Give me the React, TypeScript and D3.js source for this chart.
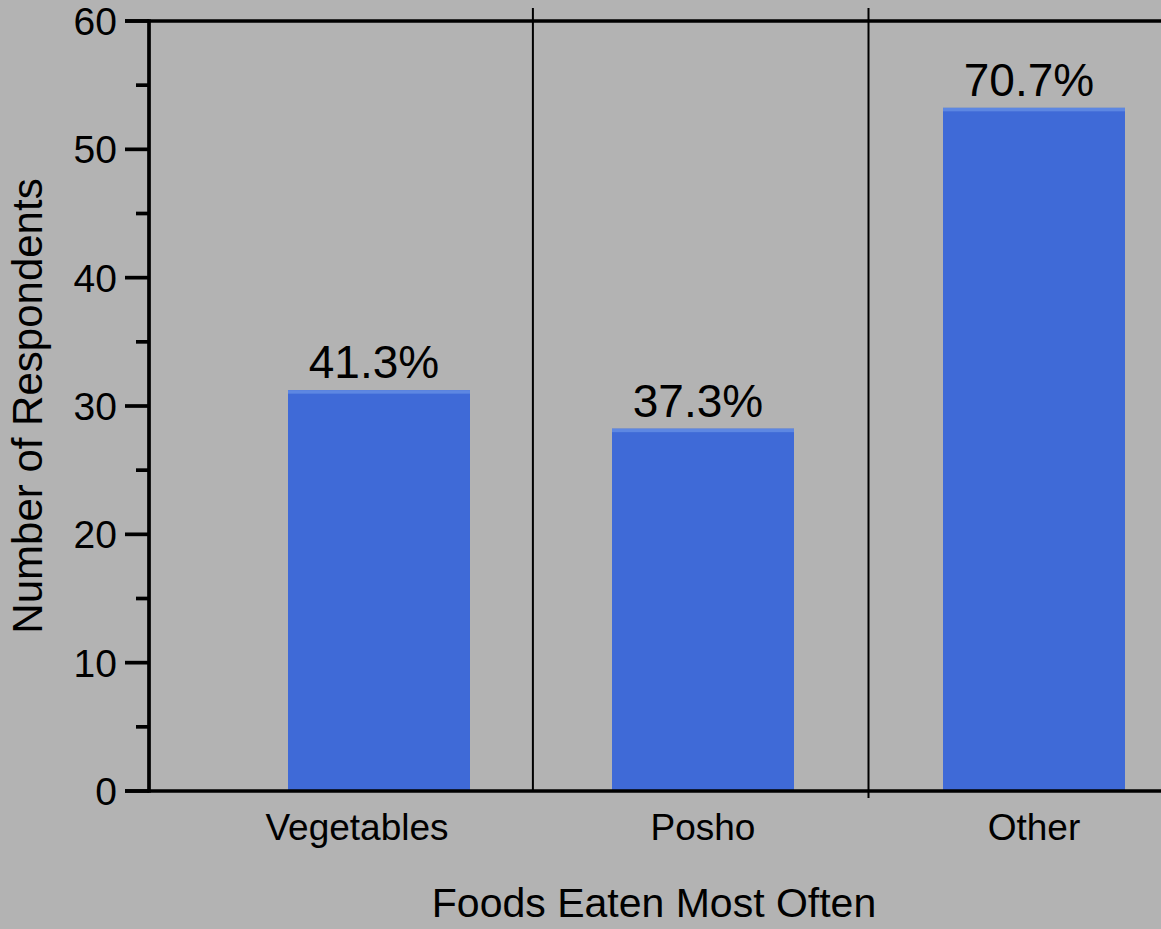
import React from "react";
import * as d3 from "d3";

const categories = ["Vegetables", "Posho", "Other"];
const respondents = [31, 28, 53];
const percentLabels = ["41.3%", "37.3%", "70.7%"];
const yTicks = [0, 10, 20, 30, 40, 50, 60];
const yMinorTicks = [5, 15, 25, 35, 45, 55];
const xTitle = "Foods Eaten Most Often";
const yTitle = "Number of Respondents";

const W = 1161;
const H = 929;
const FONT = "'Liberation Sans', Arial, Helvetica, sans-serif";

export default function App() {
  const y = d3.scaleLinear().domain([0, 60]).range([791, 21]);
  const xi = d3.scaleLinear().domain([0, 1, 2]).range([379, 703, 1034]);
  const barW = 182;
  const axisX = 149;
  const bg = "#b3b3b3";
  const barColor = "#3f6ad7";
  const barTop = "#5d87e2";
  const separators = [0.475, 1.5];
  const labelShift = [-22, 0, 0];

  return (
    <svg
      width={W}
      height={H}
      style={{ position: "fixed", left: 0, top: 0, display: "block" }}
      fontFamily={FONT}
    >
      <rect x={0} y={0} width={W} height={H} fill={bg} />

      {/* category separators */}
      {separators.map((s, i) => (
        <line
          key={"sep" + i}
          x1={xi(s)}
          x2={xi(s)}
          y1={8}
          y2={i === 1 ? 798 : y(0)}
          stroke="#000"
          strokeWidth={2}
        />
      ))}

      {/* bars */}
      {categories.map((c, i) => {
        const cx = xi(i);
        const top = y(respondents[i]) - 3;
        return (
          <g key={c}>
            <rect x={cx - barW / 2} y={top} width={barW} height={y(0) - top} fill={barColor} />
            <rect x={cx - barW / 2} y={top} width={barW} height={3.5} fill={barTop} />
            <text
              x={cx - 5}
              y={top - 12}
              textAnchor="middle"
              fontSize={46}
              fill="#000"
            >
              {percentLabels[i]}
            </text>
            <text
              x={cx + labelShift[i]}
              y={840}
              textAnchor="middle"
              fontSize={37}
              fill="#000"
            >
              {c}
            </text>
          </g>
        );
      })}

      {/* top frame line */}
      <line x1={125} x2={W} y1={y(60)} y2={y(60)} stroke="#000" strokeWidth={3.7} />
      {/* y axis */}
      <line x1={axisX} x2={axisX} y1={y(60) - 1.8} y2={y(0) + 1.8} stroke="#000" strokeWidth={3.7} />
      {/* x axis */}
      <line x1={125} x2={W} y1={y(0)} y2={y(0)} stroke="#000" strokeWidth={3.7} />

      {yTicks.map((t) => (
        <g key={"t" + t}>
          <line x1={125} x2={axisX} y1={y(t)} y2={y(t)} stroke="#000" strokeWidth={3.7} />
          <text
            x={117}
            y={y(t)}
            dy="0.36em"
            textAnchor="end"
            fontSize={39}
            fill="#000"
          >
            {t}
          </text>
        </g>
      ))}
      {yMinorTicks.map((t) => (
        <line key={"m" + t} x1={136} x2={axisX} y1={y(t)} y2={y(t)} stroke="#000" strokeWidth={3.7} />
      ))}

      <text
        transform={`translate(42, 406) rotate(-90)`}
        textAnchor="middle"
        fontSize={42}
        fill="#000"
      >
        {yTitle}
      </text>
      <text x={654} y={917} textAnchor="middle" fontSize={41} fill="#000">
        {xTitle}
      </text>
    </svg>
  );
}
